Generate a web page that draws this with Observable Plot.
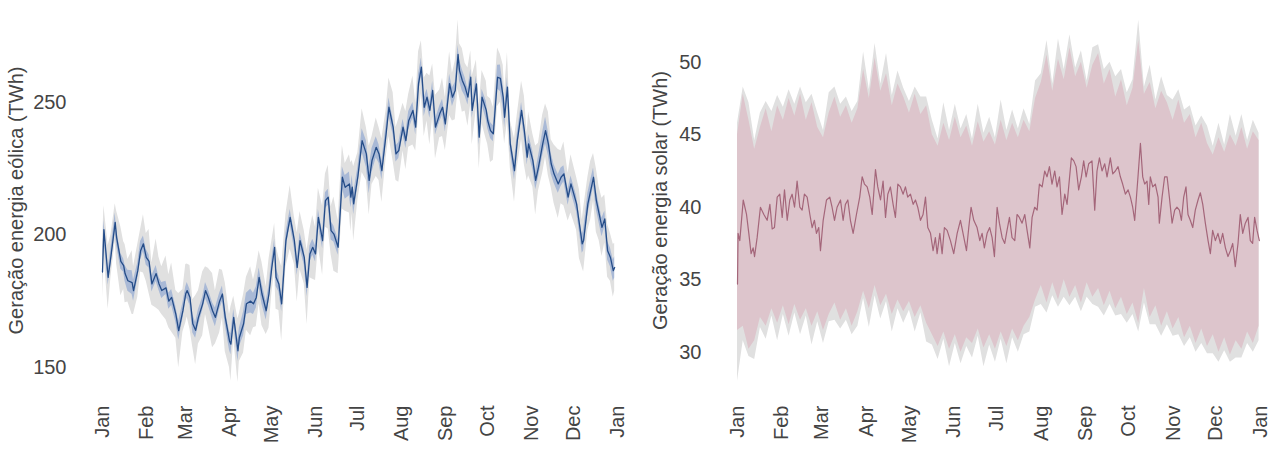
<!DOCTYPE html>
<html><head><meta charset="utf-8">
<script src="https://cdn.jsdelivr.net/npm/d3@7"></script>
<script src="https://cdn.jsdelivr.net/npm/@observablehq/plot@0.6"></script>
<style>body{margin:0;background:#fff}#wrap{display:flex;width:1279px;height:450px;background:#fff}</style>
</head><body><div id="wrap"></div>
<script>
const monthLabels = ["Jan","Feb","Mar","Apr","May","Jun","Jul","Aug","Sep","Oct","Nov","Dec","Jan"];
const windTicks = [150,200,250];
const solarTicks = [30,35,40,45,50];

const windDays = [0,1,4,6,9,10,13,15,16,18,
21,22,25,27,29,31,33,35,38,40,
42,45,47,49,52,54,57,59,60,62,
64,66,68,71,73,75,78,80,83,85,
87,90,91,93,96,97,100,102,105,107,
109,111,113,116,118,120,122,123,125,127,
130,133,136,138,140,143,145,147,149,151,
153,156,158,160,162,164,167,170,172,175,
176,177,178,181,184,187,189,191,194,196,
198,201,203,206,208,210,213,215,217,220,
222,224,226,228,230,232,234,236,239,241,
243,246,248,250,252,253,255,257,259,261,
262,265,267,269,272,273,275,277,280,282,
284,285,287,289,292,294,297,299,301,302,
305,307,309,312,314,316,318,320,323,325,
327,330,332,336,338,340,341,344,346,348,
350,352,354,356,358,360,362,363];
const windMean = [186,202,184,192,204.7,199,190,188.4,185.4,182.7,
182,179,186.5,194,196.6,191.5,190,181.5,185.4,181.6,
179,180,175,176.4,170,163.9,171.4,177.8,179,176.4,
166.5,164,168.9,174,179,176.4,171.4,168.9,175,177.7,
168.9,160,158.8,168.9,156.3,161.3,166.5,174,175,174,
176.4,184,177.8,171.4,177.8,187.7,195.3,184,181.5,174,
197.8,206.6,197.8,187.7,197.8,191.5,180.2,192.8,195.3,192.8,
206.6,197.8,212.9,214.2,201.6,200.3,195.3,221.7,217.9,219.2,
214.2,218,211.7,222,235.5,230.5,220.5,228,233,230.5,
224.2,238,248.1,240.6,230.5,231.8,240.6,235.5,243,246.9,
240.6,257,263.2,248.1,251.9,246.9,254.4,240.6,245.6,248.1,
241.8,257,251.9,254.4,268,262,258.2,255.7,251.9,259.4,
246.9,256.9,236.8,251.9,246.9,243.1,239.3,238.1,259.4,259,
251.9,244.3,255.7,234.3,224.2,235.5,246.9,239.3,229.3,234.3,
228,220.5,225.5,234.3,239.3,234.3,226.8,223,219.2,221.7,
223,214.2,219.2,211.7,204.1,196.6,198,211.7,216.7,221.7,
213,207.9,202.8,206,194,191.5,186.5,187.7];
const windCI = [3,3.5,3,3,3.5,3,3,2.5,3,4,
4.5,4,3,3.5,3,3,2.5,3,3,2.5,
3,2.5,3,3,3,3.5,3,2.5,3,3,
3.5,3,3,2.5,3,3,3,3.5,3,3,
3,3.5,4,3,4,3.5,4.5,4,4.5,4,
4,3.5,4,3.5,3,3,3,3.5,3,3,
3,3,3,3,3,3,3.5,3,3,3,
3,3,3,3,3.5,3,3,4,4.5,4.5,
4,4.5,4,3.5,4.5,5,5,4.5,4,3.5,
3.5,3.5,3.5,3,3,3,3,3,3.5,3,
3,3.5,3.5,3.5,3,3,3.5,3,3,3,
3,3.5,3.5,3,3.5,4,4,3.5,3,3,
3,3,3,3,3.5,3,3,3,4.5,5,
4.5,4,3.5,3,3.5,3,3,3,3,3.5,
3.5,3.5,4,4.5,5,4.5,4,3.5,3.5,3.5,
3,3,3,3,3,3.5,4,4,4,3.5,
3.5,3.5,3.5,3,3.5,3.5,4,4];
const windSpread = [10,9,12,8,7,10,13,9,11,8,
12,9,10,8,11,9,12,8,13,10,
9,12,10,13,9,14,8,11,10,12,
9,13,10,12,9,11,14,10,12,9,
13,10,14,8,12,9,11,10,13,9,
11,10,12,9,13,10,9,12,10,14,
10,12,9,13,11,10,14,9,12,10,
11,13,10,12,9,14,10,12,9,11,
13,10,14,9,12,10,13,9,11,10,
12,9,11,13,10,12,9,11,10,13,
9,12,10,11,9,13,10,12,9,11,
10,12,9,11,13,10,12,9,11,10,
13,9,12,10,11,9,12,10,11,9,
12,10,13,9,12,10,11,13,9,12,
10,13,9,11,10,12,9,11,13,10,
12,9,11,10,13,9,12,10,11,9,
12,10,11,9,10,9,10,9];

const solarDays = [0,0.4,1.6,4.0,6.3,7.9,9.5,10.9,11.9,13.7,
16.0,18.4,20.7,22.6,24.2,25.8,27.7,29.5,31.2,32.8,
34.7,36.5,38.1,39.8,41.6,43.5,45.1,46.7,48.6,50.5,
52.1,53.7,55.1,56.7,57.9,59.8,62.1,64.4,66.0,67.7,
69.5,71.9,73.7,75.3,77.0,78.8,80.7,83.0,85.3,87.0,
88.6,90.5,92.3,94.0,96.3,97.9,99.8,101.6,103.3,104.9,
106.7,108.6,110.2,111.9,113.7,115.6,117.2,118.8,120.7,122.6,
124.2,125.8,127.7,129.5,131.2,132.8,134.7,136.5,138.1,139.3,
141.2,142.8,144.4,146.3,148.6,150.9,153.3,155.6,157.4,159.8,
161.4,163.0,164.9,167.2,169.1,170.7,172.3,174.2,176.0,177.7,
179.3,181.2,182.8,184.7,186.5,188.1,189.8,191.6,193.5,195.1,
196.7,198.6,200.5,202.1,204.0,205.6,207.4,209.1,210.7,212.6,
214.4,216.0,217.7,219.5,221.4,223.0,224.7,226.5,228.4,230.0,
233.0,234.7,236.3,238.1,240.0,241.6,243.3,245.1,247.4,249.3,
250.9,252.6,254.4,256.3,257.9,260.2,261.9,263.7,265.6,267.2,
268.8,270.7,272.6,274.2,275.8,277.2,279.5,281.2,282.8,284.2,
285.8,287.0,288.1,289.8,291.6,293.5,294.4,296.3,298.1,299.8,
301.4,303.3,305.1,306.7,308.4,309.8,311.4,313.0,314.4,316.0,
317.7,319.5,321.4,323.0,324.7,326.5,328.4,330.0,331.6,333.5,
335.3,337.0,338.6,340.5,342.3,344.0,345.6,347.4,349.3,350.9,
352.6,354.4,356.3,357.9,359.5,360.9,362.6,364.2];
const solarMean = [34.7,38.2,37.7,40.5,39.5,38.2,36.8,37.2,36.6,37.9,
40.0,39.5,39.1,40.2,38.5,38.6,40.7,40.9,39.3,41.2,
39.1,40.5,40.9,40.0,41.8,40.0,39.8,40.9,40.7,39.5,
38.6,39.1,38.2,38.6,37.0,39.1,40.5,40.7,40.0,39.1,
40.0,40.5,39.1,40.2,40.5,39.1,38.2,39.5,40.7,42.1,
41.6,41.4,40.7,39.5,42.6,41.4,40.5,41.8,39.3,40.9,
41.4,40.2,39.3,41.6,41.4,40.9,41.4,40.7,40.9,40.2,
40.5,40.0,39.1,39.5,40.7,38.6,38.2,37.0,37.9,36.8,
38.2,36.8,38.6,38.4,37.7,36.8,38.2,39.1,38.2,37.0,
38.6,40.0,39.1,38.6,37.7,38.2,37.2,38.2,38.6,37.9,
36.6,40.0,38.9,37.9,37.5,38.4,39.3,37.9,37.7,39.5,
39.3,38.9,39.5,38.4,37.2,39.3,40.0,39.8,41.6,41.4,
42.5,42.1,42.8,41.6,42.5,41.4,42.1,39.5,40.9,40.2,
43.4,43.2,42.8,41.2,42.1,43.2,42.1,43.0,43.2,39.8,
42.5,43.4,42.5,43.0,42.1,43.4,42.3,42.5,42.8,42.1,
41.6,40.9,41.2,40.7,40.0,39.1,42.1,44.4,42.1,41.6,
41.8,40.2,42.1,41.4,41.6,40.7,38.9,40.7,42.1,42.1,
40.7,38.9,39.8,40.0,39.8,39.1,40.7,41.4,39.5,39.1,
38.6,39.8,40.5,41.0,40.2,38.9,37.7,36.8,38.4,37.7,
38.2,37.5,38.2,37.2,36.6,37.0,37.5,35.9,37.5,39.5,
38.2,38.9,39.3,37.7,37.5,39.3,38.4,37.7];

// solar bands, one value every 4 days (day 0, 4, ..., 364)
const solarBandStep = 4;
const solarHi = [45.0,47.8,46.0,44.0,45.5,46.8,45.2,47.0,46.0,47.5,
46.3,47.8,46.0,47.2,45.5,44.8,46.5,47.6,46.2,47.0,
45.8,46.8,49.5,47.5,50.3,48.0,49.2,47.0,48.5,47.6,
46.5,47.8,46.4,47.0,45.0,44.2,45.8,44.6,46.2,44.8,
45.6,44.2,45.9,44.5,45.2,44.3,46.0,44.6,45.8,44.8,
46.0,45.2,47.5,48.6,50.5,48.0,50.2,48.8,51.0,49.0,
50.0,48.2,49.8,50.6,48.5,49.5,47.6,48.8,47.0,48.2,
51.5,47.8,48.6,46.8,48.0,47.2,46.0,47.4,45.8,46.4,
44.8,45.8,44.4,43.6,44.8,43.8,45.0,44.2,45.5,44.0,
45.2,44.6];
const solarMax = [45.8,48.3,47.2,44.6,46.5,47.3,46.6,47.7,46.9,48.1,
47.1,48.3,47.2,47.8,46.5,45.3,47.9,48.3,47.1,47.6,
46.6,47.3,50.7,48.1,51.3,48.5,50.6,47.7,49.4,48.2,
47.3,48.3,47.6,47.6,46.0,44.7,47.2,45.3,47.1,45.4,
46.4,44.7,47.1,45.1,46.2,44.8,47.4,45.3,46.7,45.4,
46.8,45.7,48.7,49.2,51.5,48.5,51.6,49.5,51.9,49.6,
50.8,48.7,51.0,51.2,49.5,50.0,49.0,49.5,47.9,48.8,
52.9,48.3,49.8,47.4,49.0,47.7,47.4,48.1,46.7,47.0,
45.6,46.3,45.6,44.2,45.8,44.3,46.4,44.9,46.4,44.6,
46.0,45.1];
const solarLo = [31.5,31.8,30.2,30.8,32.4,31.8,33.0,32.0,33.2,31.9,
33.3,32.2,33.0,31.8,32.8,31.5,32.6,33.4,32.2,33.0,
31.8,32.8,34.2,33.0,34.6,33.2,34.0,32.6,33.6,32.8,
33.5,32.4,33.2,32.0,31.2,30.4,31.4,30.2,31.2,30.0,
31.0,30.6,31.6,30.3,31.2,30.2,31.4,30.4,31.6,30.8,
31.8,32.4,33.6,34.6,33.4,34.8,33.6,35.0,33.8,34.6,
33.4,34.8,33.8,34.4,33.2,34.2,33.0,33.8,32.6,33.4,
32.0,34.4,32.4,33.2,31.8,32.8,31.6,32.4,31.0,31.8,
30.6,31.6,30.4,31.2,30.0,31.0,29.8,30.8,30.2,31.4,
30.6,31.8];
const solarMin = [28.0,30.8,29.7,29.5,31.7,30.9,32.5,30.8,32.6,31.1,
32.7,31.2,32.5,30.5,32.1,30.6,32.1,32.2,31.6,32.2,
31.2,31.8,33.7,31.7,33.9,32.3,33.5,31.4,33.0,32.0,
32.9,31.4,32.7,30.7,30.5,29.5,30.9,29.0,30.6,29.2,
30.4,29.6,31.1,29.0,30.5,29.3,30.9,29.2,31.0,30.0,
31.2,31.4,33.1,33.3,32.7,33.9,33.1,33.8,33.2,33.8,
32.8,33.8,33.3,33.1,32.5,33.3,32.5,32.6,32.0,32.6,
31.4,33.4,31.9,31.9,31.1,31.9,31.1,31.2,30.4,31.0,
30.0,30.6,29.9,29.9,29.3,30.1,29.3,29.6,29.6,30.6,
30.0,30.8];

const T0 = Date.UTC(2021, 0, 1), DAY = 864e5;
const toDate = d => new Date(T0 + d * DAY);
const monthTicks = d3.utcMonth.range(new Date(T0), new Date(Date.UTC(2022, 0, 2)));
const fmtMonth = d => monthLabels[monthTicks.findIndex(t => +t === +d)];

const windData = windDays.map((d, i) => ({date: toDate(d), mean: windMean[i], ci: windCI[i], sp: windSpread[i]}));
const solarData = solarDays.map((d, i) => ({date: toDate(d), mean: solarMean[i]}));
const solarBand = solarHi.map((v, i) => ({date: toDate(i * solarBandStep), hi: v, max: solarMax[i], lo: solarLo[i], min: solarMin[i]}));

const style = {fontFamily: "'Liberation Sans', Arial, sans-serif", fontSize: "20px", color: "#444", background: "#fff"};
const xAxis = () => Plot.axisX({ticks: monthTicks, tickFormat: fmtMonth, tickRotate: -90, tickSize: 0, tickPadding: 15, label: null});

const wind = Plot.plot({
  width: 640, height: 450, marginLeft: 102, marginRight: 23, marginTop: 10, marginBottom: 60,
  style,
  x: {type: "utc", domain: [toDate(0), toDate(365)]},
  y: {domain: [141.33, 284.56]},
  marks: [
    Plot.areaY(windData, {x: "date", y1: d => d.mean - d.sp, y2: d => d.mean + d.sp, fill: "#e0e0e0"}),
    Plot.areaY(windData, {x: "date", y1: d => d.mean - d.ci, y2: d => d.mean + d.ci, fill: "#a9b9d6"}),
    Plot.lineY(windData, {x: "date", y: "mean", stroke: "#244c88", strokeWidth: 1.3}),
    xAxis(),
    Plot.axisY({ticks: windTicks, tickSize: 0, tickPadding: 36, label: "Geração energia eólica (TWh)", labelAnchor: "center", labelOffset: 94, labelArrow: "none"})
  ]
});

const solar = Plot.plot({
  width: 639, height: 450, marginLeft: 97, marginRight: 19, marginTop: 10, marginBottom: 60,
  style,
  x: {type: "utc", domain: [toDate(0), toDate(365)]},
  y: {domain: [27.36, 53.57]},
  marks: [
    Plot.areaY(solarBand, {x: "date", y1: "min", y2: "max", fill: "#e0e0e0"}),
    Plot.areaY(solarBand, {x: "date", y1: "lo", y2: "hi", fill: "#ddc5cc"}),
    Plot.lineY(solarData, {x: "date", y: "mean", stroke: "#a4667a", strokeWidth: 1.2}),
    xAxis(),
    Plot.axisY({ticks: solarTicks, tickSize: 0, tickPadding: 36, label: "Geração energia solar (TWh)", labelAnchor: "center", labelOffset: 85, labelArrow: "none"})
  ]
});

document.getElementById("wrap").append(wind, solar);
</script></body></html>
